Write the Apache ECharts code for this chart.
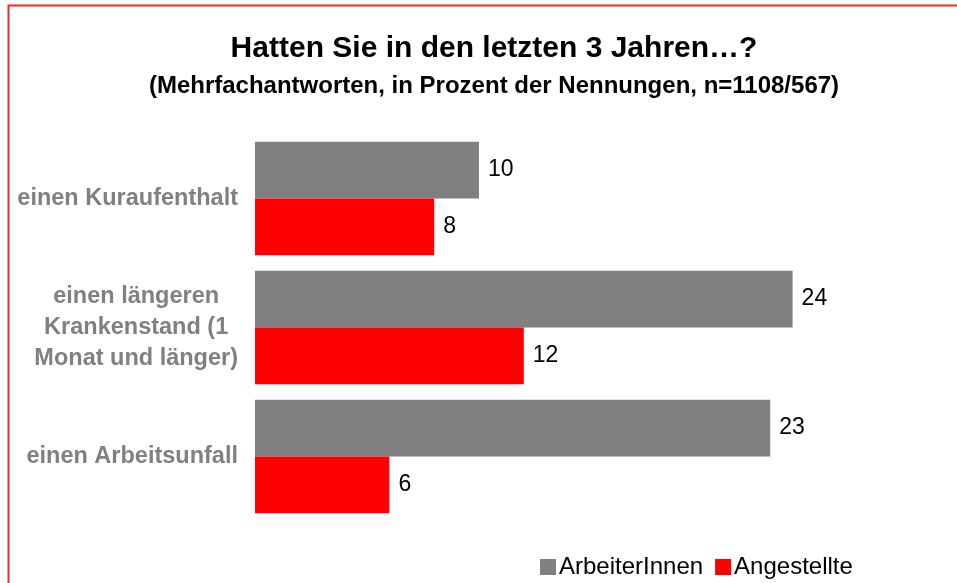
<!DOCTYPE html>
<html>
<head>
<meta charset="utf-8">
<script src="https://cdn.jsdelivr.net/npm/echarts@6/dist/echarts.min.js"></script>
<style>
  html, body { margin: 0; padding: 0; background: #fff; }
  #chart { width: 957px; height: 583px; }
</style>
</head>
<body>
<div id="chart"></div>
<script>
const categories = ['einen Kuraufenthalt', 'einen längeren\nKrankenstand (1\nMonat und länger)', 'einen Arbeitsunfall'];
const arbeiterValues = [10, 24, 23];
const angestellteValues = [8, 12, 6];
const seriesNames = ['ArbeiterInnen', 'Angestellte'];

const chart = echarts.init(document.getElementById('chart'), null, { renderer: 'canvas' });

const option = {
  backgroundColor: '#fff',
  animation: false,
  textStyle: { fontFamily: 'Liberation Sans, Arial, sans-serif' },
  title: {
    text: 'Hatten Sie in den letzten 3 Jahren…?',
    subtext: '(Mehrfachantworten, in Prozent der Nennungen, n=1108/567)',
    left: 489,
    textAlign: 'center',
    top: 29,
    itemGap: 10,
    textStyle: { fontSize: 30, fontWeight: 'bold', color: '#000' },
    subtextStyle: { fontSize: 24, fontWeight: 'bold', color: '#000' }
  },
  graphic: [{
    type: 'rect',
    shape: { x: 8.5, y: 5.5, width: 1200, height: 1200 },
    style: { fill: 'none', stroke: '#ee2a2a', lineWidth: 2 },
    silent: true
  }],
  legend: {
    data: seriesNames,
    left: 535,
    top: 550,
    icon: 'rect',
    itemWidth: 16,
    itemHeight: 16,
    itemGap: 12,
    textStyle: { fontSize: 24, color: '#000', padding: [0, 0, 0, -2] }
  },
  grid: {
    left: 255,
    top: 134,
    width: 672,
    height: 387,
    containLabel: false
  },
  xAxis: {
    type: 'value',
    min: 0,
    max: 30,
    show: false
  },
  yAxis: {
    type: 'category',
    data: categories,
    inverse: true,
    axisLine: { show: false },
    axisTick: { show: false },
    axisLabel: {
      margin: 17,
      formatter: v => v.split('\n').map(l => '{c|' + l + '}').join('\n'),
      rich: {
        c: {
          align: 'center',
          fontSize: 23.5,
          fontWeight: 'bold',
          color: '#808080',
          lineHeight: 31
        }
      }
    }
  },
  series: [
    {
      name: seriesNames[0],
      type: 'bar',
      data: arbeiterValues,
      barCategoryGap: '12%',
      barGap: '0%',
      itemStyle: { color: '#808080' },
      label: { show: true, position: 'right', distance: 9, fontSize: 23, color: '#000' }
    },
    {
      name: seriesNames[1],
      type: 'bar',
      data: angestellteValues,
      barCategoryGap: '12%',
      barGap: '0%',
      itemStyle: { color: '#ff0000' },
      label: { show: true, position: 'right', distance: 9, fontSize: 23, color: '#000' }
    }
  ]
};

chart.setOption(option);
</script>
</body>
</html>
